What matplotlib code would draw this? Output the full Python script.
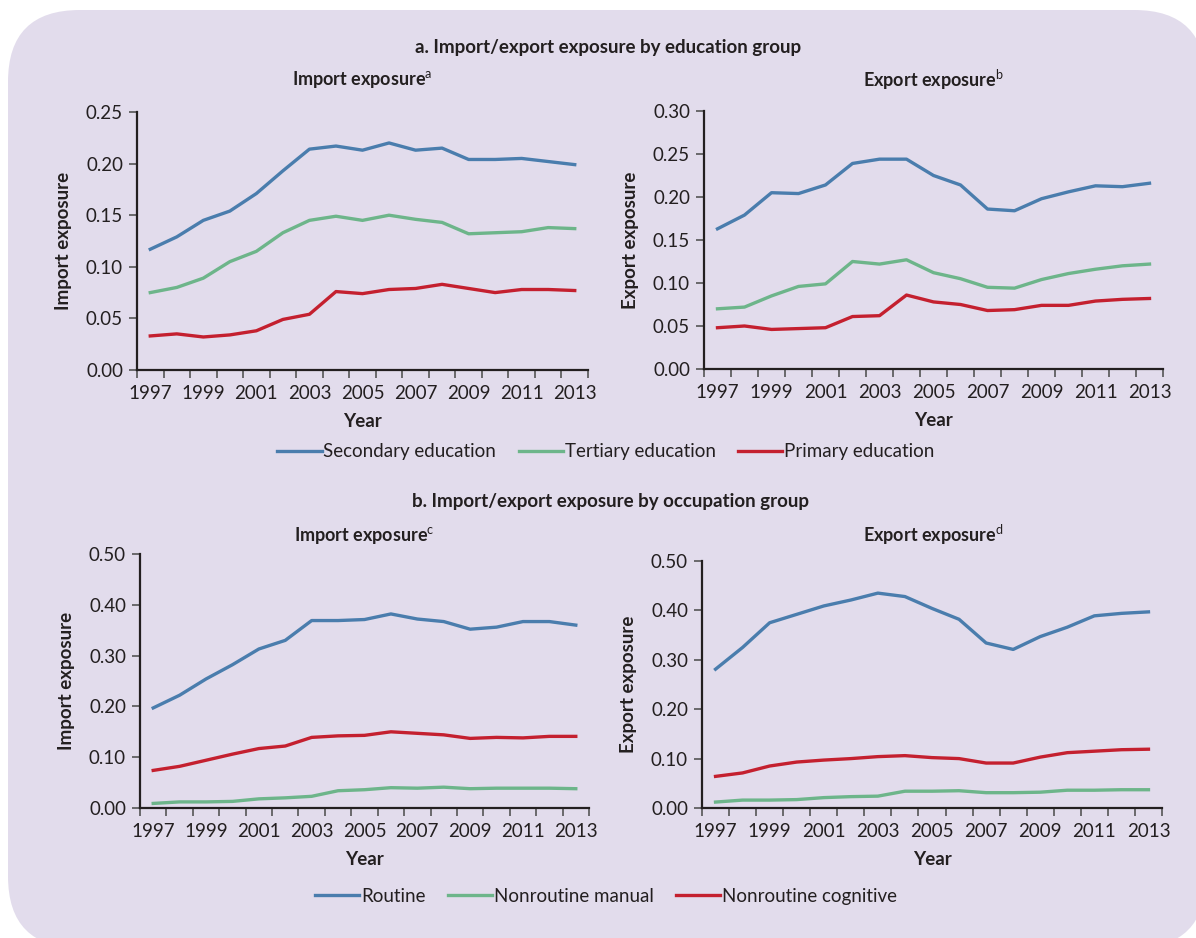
import matplotlib
matplotlib.use("Agg")
import matplotlib.pyplot as plt
import numpy as np
from matplotlib.patches import FancyBboxPatch
from matplotlib.lines import Line2D

plt.rcParams['font.family'] = ['Lato', 'DejaVu Sans']
plt.rcParams['mathtext.fontset'] = 'custom'
plt.rcParams['mathtext.rm'] = 'Lato'
plt.rcParams['mathtext.bf'] = 'Lato:bold'

years = list(range(1997, 2014))
tick_labels = [str(y) if (y - 1997) % 2 == 0 else "" for y in years]

# Panel a: education groups
imp_secondary = [0.117, 0.129, 0.145, 0.154, 0.171, 0.193, 0.214, 0.217, 0.213, 0.220, 0.213, 0.215, 0.204, 0.204, 0.205, 0.202, 0.199]
imp_tertiary = [0.075, 0.080, 0.089, 0.105, 0.115, 0.133, 0.145, 0.149, 0.145, 0.150, 0.146, 0.143, 0.132, 0.133, 0.134, 0.138, 0.137]
imp_primary = [0.033, 0.035, 0.032, 0.034, 0.038, 0.049, 0.054, 0.076, 0.074, 0.078, 0.079, 0.083, 0.079, 0.075, 0.078, 0.078, 0.077]

exp_secondary = [0.163, 0.179, 0.205, 0.204, 0.214, 0.239, 0.244, 0.244, 0.225, 0.214, 0.186, 0.184, 0.198, 0.206, 0.213, 0.212, 0.216]
exp_tertiary = [0.070, 0.072, 0.085, 0.096, 0.099, 0.125, 0.122, 0.127, 0.112, 0.105, 0.095, 0.094, 0.104, 0.111, 0.116, 0.120, 0.122]
exp_primary = [0.048, 0.050, 0.046, 0.047, 0.048, 0.061, 0.062, 0.086, 0.078, 0.075, 0.068, 0.069, 0.074, 0.074, 0.079, 0.081, 0.082]

# Panel b: occupation groups
imp_routine = [0.197, 0.222, 0.254, 0.282, 0.313, 0.330, 0.369, 0.369, 0.371, 0.382, 0.372, 0.367, 0.352, 0.356, 0.367, 0.367, 0.360]
imp_nr_manual = [0.009, 0.012, 0.012, 0.013, 0.018, 0.020, 0.023, 0.034, 0.036, 0.040, 0.039, 0.041, 0.038, 0.039, 0.039, 0.039, 0.038]
imp_nr_cognitive = [0.074, 0.082, 0.094, 0.106, 0.117, 0.122, 0.139, 0.142, 0.143, 0.150, 0.147, 0.144, 0.137, 0.139, 0.138, 0.141, 0.141]

exp_routine = [0.281, 0.325, 0.375, 0.392, 0.409, 0.421, 0.435, 0.428, 0.404, 0.382, 0.334, 0.321, 0.347, 0.366, 0.389, 0.394, 0.397]
exp_nr_manual = [0.012, 0.016, 0.016, 0.017, 0.021, 0.023, 0.024, 0.034, 0.034, 0.035, 0.031, 0.031, 0.032, 0.036, 0.036, 0.037, 0.037]
exp_nr_cognitive = [0.064, 0.071, 0.085, 0.093, 0.097, 0.100, 0.104, 0.106, 0.102, 0.100, 0.091, 0.091, 0.103, 0.112, 0.115, 0.118, 0.119]

BLUE = '#4A7DAD'
GREEN = '#6DB58A'
RED = '#C4202F'
BG = '#E2DCEC'
TXT = '#231F20'

W, H = 1196, 938
fig = plt.figure(figsize=(W / 100, H / 100), dpi=100, facecolor='white')

bg = FancyBboxPatch((8 / W, -10 / H), (W + 10 - 8) / W, (H - 10 + 10) / H,
                    boxstyle="round,pad=0,rounding_size=0.06",
                    transform=fig.transFigure, facecolor=BG, edgecolor='none',
                    mutation_aspect=W / H, zorder=-5)
fig.patches.append(bg)


def add_ax(left, right, top, bottom):
    ax = fig.add_axes([left / W, (H - bottom) / H, (right - left) / W, (bottom - top) / H])
    ax.set_zorder(2)
    return ax


def style(ax, ymax, ystep):
    ax.set_facecolor('none')
    for s in ['top', 'right']:
        ax.spines[s].set_visible(False)
    for s in ['left', 'bottom']:
        ax.spines[s].set_color(TXT)
        ax.spines[s].set_linewidth(1.6)
    ax.set_xlim(-0.5, len(years) - 0.5)
    ax.set_ylim(0, ymax)
    yt = np.arange(0, ymax + 1e-9, ystep)
    ax.set_yticks(yt)
    ax.set_yticklabels([f"{v:.2f}" for v in yt])
    ax.set_xticks(np.arange(len(years)))
    ax.set_xticklabels(tick_labels)
    ax.set_xticks(np.arange(len(years) + 1) - 0.5, minor=True)
    ax.tick_params(axis='x', which='major', length=0, pad=11, labelsize=13.5, labelcolor=TXT)
    ax.tick_params(axis='x', which='minor', length=6, width=1.2, color='#555555')
    ax.tick_params(axis='y', length=6, width=1.2, color='#555555', labelsize=13.5, labelcolor=TXT, pad=4)
    ax.set_xlabel('Year', fontsize=13.5, fontweight='bold', color=TXT, labelpad=8)


x = np.arange(len(years))
lw = 2.4

ax1 = add_ax(137, 588, 112, 370)
style(ax1, 0.25, 0.05)
ax1.plot(x, imp_secondary, color=BLUE, lw=lw)
ax1.plot(x, imp_tertiary, color=GREEN, lw=lw)
ax1.plot(x, imp_primary, color=RED, lw=lw)
ax1.set_ylabel('Import exposure', fontsize=13.5, fontweight='bold', color=TXT, labelpad=10)

ax2 = add_ax(704, 1163, 111, 369)
style(ax2, 0.30, 0.05)
ax2.plot(x, exp_secondary, color=BLUE, lw=lw)
ax2.plot(x, exp_tertiary, color=GREEN, lw=lw)
ax2.plot(x, exp_primary, color=RED, lw=lw)
ax2.set_ylabel('Export exposure', fontsize=13.5, fontweight='bold', color=TXT, labelpad=10)

ax3 = add_ax(140, 589, 554, 808)
style(ax3, 0.50, 0.10)
ax3.plot(x, imp_routine, color=BLUE, lw=lw)
ax3.plot(x, imp_nr_manual, color=GREEN, lw=lw)
ax3.plot(x, imp_nr_cognitive, color=RED, lw=lw)
ax3.set_ylabel('Import exposure', fontsize=13.5, fontweight='bold', color=TXT, labelpad=10)

ax4 = add_ax(702, 1162, 561, 808)
style(ax4, 0.50, 0.10)
ax4.plot(x, exp_routine, color=BLUE, lw=lw)
ax4.plot(x, exp_nr_manual, color=GREEN, lw=lw)
ax4.plot(x, exp_nr_cognitive, color=RED, lw=lw)
ax4.set_ylabel('Export exposure', fontsize=13.5, fontweight='bold', color=TXT, labelpad=10)


def ftext(px, py, s, **kw):
    fig.text(px / W, 1 - py / H, s, ha='center', va='center', color=TXT, **kw)


ftext(608, 48, 'a. Import/export exposure by education group', fontsize=13.5, fontweight='bold')
ftext(362, 80, r'Import exposure$^{\mathrm{a}}$', fontsize=13, fontweight='bold')
ftext(933, 80, r'Export exposure$^{\mathrm{b}}$', fontsize=13, fontweight='bold')
ftext(610, 501, 'b. Import/export exposure by occupation group', fontsize=13.5, fontweight='bold')
ftext(364, 535, r'Import exposure$^{\mathrm{c}}$', fontsize=13, fontweight='bold')
ftext(933, 535, r'Export exposure$^{\mathrm{d}}$', fontsize=13, fontweight='bold')


def legend(labels, py):
    handles = [Line2D([], [], color=c, lw=lw) for c in (BLUE, GREEN, RED)]
    fig.legend(handles, labels, loc='center', bbox_to_anchor=(606 / W, 1 - py / H),
               ncol=3, frameon=False, fontsize=13.5, handlelength=2.35, handletextpad=0.1,
               columnspacing=1.2, labelcolor=TXT)


legend(['Secondary education', 'Tertiary education', 'Primary education'], 452)
legend(['Routine', 'Nonroutine manual', 'Nonroutine cognitive'], 896)

fig.savefig('out.png', dpi=100, facecolor='white')
